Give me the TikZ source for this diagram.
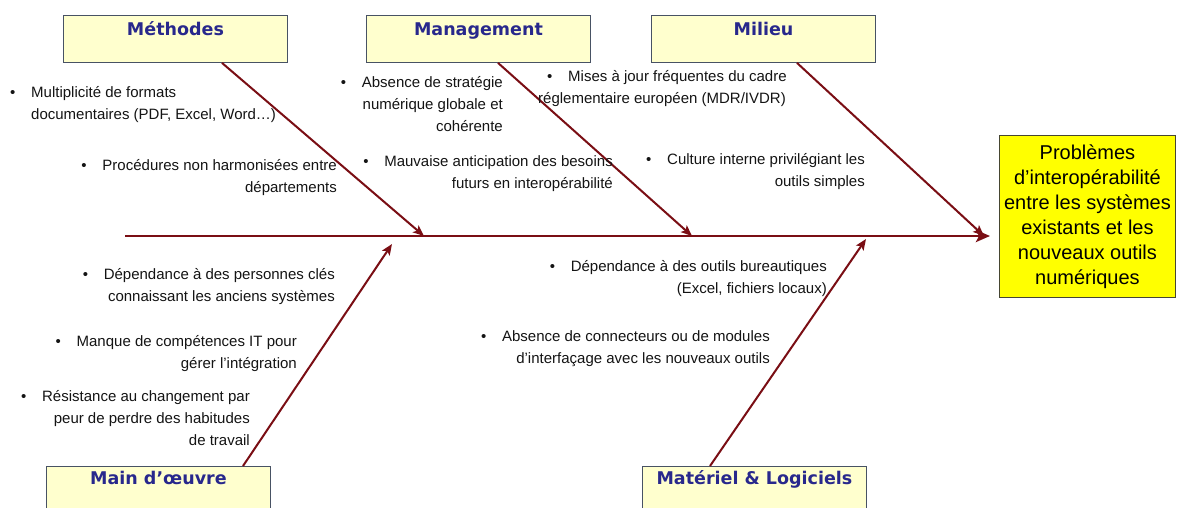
\documentclass[tikz,border=0pt]{standalone}
\usepackage{fontspec}
\setmainfont{Liberation Sans}
\newfontfamily\catfont{DejaVu Sans}
\usetikzlibrary{arrows.meta,calc}

\definecolor{bone}{RGB}{122,14,20}
\definecolor{catfill}{RGB}{255,255,206}
\definecolor{catedge}{RGB}{72,82,100}
\definecolor{cattext}{RGB}{40,40,140}
\definecolor{itemtext}{RGB}{20,20,20}
\definecolor{resfill}{RGB}{255,255,0}
\definecolor{resedge}{RGB}{70,70,50}

% bullet followed by the tab gap used in every cause item
\newcommand\blt{\makebox[21pt][l]{•}}

\tikzset{
  catbox/.style={draw=catedge, line width=0.9pt, fill=catfill,
    minimum width=224pt, minimum height=47pt, inner sep=0pt},
  bottombox/.style={catbox, minimum height=60pt},
  cattitle/.style={inner sep=0pt, anchor=base, text=cattext,
    font=\catfont\bfseries\fontsize{17.5}{20}\selectfont},
  item/.style={inner sep=0pt, text=itemtext,
    font=\fontsize{15}{22}\selectfont},
  resbox/.style={draw=resedge, line width=0.9pt, fill=resfill,
    minimum width=176pt, minimum height=162pt, inner sep=0pt,
    align=center, font=\fontsize{20}{25}\selectfont},
  bonearrow/.style={draw=bone, line width=2pt,
    -{Stealth[length=11pt,width=9pt,inset=2.5pt]}},
  spinearrow/.style={draw=bone, line width=2.8pt,
    -{Stealth[length=14pt,width=12pt,inset=3pt]}},
}

\begin{document}
\begin{tikzpicture}[x=1pt,y=-1pt]
\useasboundingbox (0,0) rectangle (1185,507);
\fill[white] (0,0) rectangle (1185,507);
\clip (0,0) rectangle (1185,507);

% category boxes
\node[catbox, anchor=north west] (meth) at (63,15) {};
\node[cattitle] (methT) at ($(meth.north)+(0,20)$) {Méthodes};
\node[catbox, anchor=north west] (mgmt) at (366,15) {};
\node[cattitle] (mgmtT) at ($(mgmt.north)+(0,20)$) {Management};
\node[catbox, anchor=north west] (mil) at (651,15) {};
\node[cattitle] (milT) at ($(mil.north)+(0,20)$) {Milieu};
\node[bottombox, anchor=north west] (mo) at (46,466) {};
\node[cattitle] (moT) at ($(mo.north)+(0,18)$) {Main d’œuvre};
\node[bottombox, anchor=north west] (mat) at (642,466) {};
\node[cattitle] (matT) at ($(mat.north)+(0,18)$) {Matériel \& Logiciels};

% effect
\node[resbox, anchor=north west] (res) at (999,135)
  {Problèmes\\d’interopérabilité\\entre les systèmes\\existants et les\\nouveaux outils\\numériques};

% spine and bone end points
\coordinate (tail) at (125,236);
\coordinate (tMeth) at (424,236);
\coordinate (tMgmt) at (692,236);
\coordinate (tMil) at (984,236);
\coordinate (tMo) at (392,244);
\coordinate (tMat) at (866,239);

\draw[spinearrow] (tail) -- ([xshift=-9pt]res.west |- tail);
\draw[bonearrow] ($(meth.south west)+(159,0)$) -- (tMeth);
\draw[bonearrow] ($(mgmt.south west)+(132,0)$) -- (tMgmt);
\draw[bonearrow] ($(mil.south west)+(146,0)$) -- (tMil);
\draw[bonearrow] ($(mo.north west)+(197,0)$) -- (tMo);
\draw[bonearrow] ($(mat.north west)+(68,0)$) -- (tMat);

% causes: Méthodes
\node[item, align=left, anchor=north west] (c1) at (10,86)
  {\blt Multiplicité de formats\\\hspace*{21pt}documentaires (PDF, Excel, Word…)};
\node[item, align=right, anchor=north east] (c2) at (337,159)
  {\blt Procédures non harmonisées entre\\départements};
% causes: Management
\node[item, align=right, anchor=north east] (c3) at (503,76)
  {\blt Absence de stratégie\\numérique globale et\\cohérente};
\node[item, align=right, anchor=north east] (c4) at (613,155)
  {\blt Mauvaise anticipation des besoins\\futurs en interopérabilité};
% causes: Milieu
\node[item, align=left, anchor=north west] (c5) at (547,70)
  {\blt Mises à jour fréquentes du cadre\\\hspace*{-9pt}réglementaire européen (MDR/IVDR)};
\node[item, align=right, anchor=north east] (c6) at (865,153)
  {\blt Culture interne privilégiant les\\outils simples};
% causes: Main d'oeuvre
\node[item, align=right, anchor=north east] (c7) at (335,268)
  {\blt Dépendance à des personnes clés\\connaissant les anciens systèmes};
\node[item, align=right, anchor=north east] (c8) at (297,335)
  {\blt Manque de compétences IT pour\\gérer l’intégration};
\node[item, align=right, anchor=north east] (c9) at (250,390)
  {\blt Résistance au changement par\\peur de perdre des habitudes\\de travail};
% causes: Matériel & Logiciels
\node[item, align=right, anchor=north east] (c10) at (827,260)
  {\blt Dépendance à des outils bureautiques\\(Excel, fichiers locaux)};
\node[item, align=right, anchor=north east] (c11) at (770,330)
  {\blt Absence de connecteurs ou de modules\\d’interfaçage avec les nouveaux outils};
\end{tikzpicture}
\end{document}
